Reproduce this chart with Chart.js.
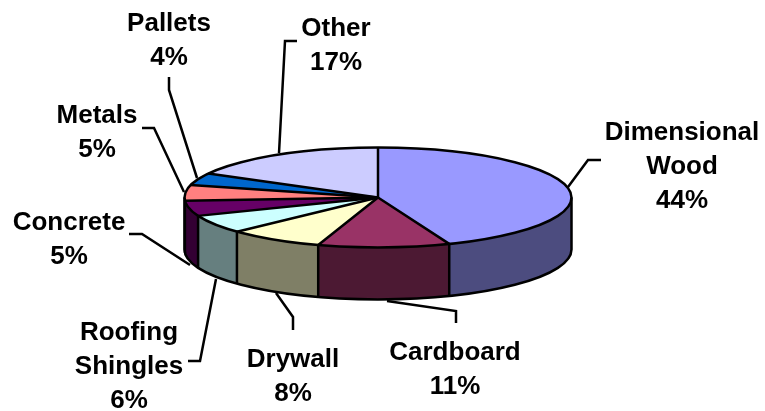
<!DOCTYPE html>
<html>
<head>
<meta charset="utf-8">
<style>
  html, body { margin: 0; padding: 0; background: #fff; }
  canvas { display: block; }
</style>
<script src="https://cdn.jsdelivr.net/npm/chart.js@4"></script>
</head>
<body>
<canvas id="grafico" width="765" height="411"></canvas>
<script>
// dados
const categorias = [['Dimensional', 'Wood'], ['Cardboard'], ['Drywall'], ['Roofing', 'Shingles'], ['Concrete'], ['Metals'], ['Pallets'], ['Other']];
const valores = [44, 11, 8, 6, 5, 5, 4, 17];
const cores = ['#9999FF', '#993366', '#FFFFCC', '#CCFFFF', '#660066', '#FF8080', '#0066CC', '#CCCCFF'];

// layout of the fake 3D pie
const centroY = 197.5;
const achatamento = 0.258;
const profundidade = 52;
const espessura = 2.5;
const fonte = 'bold 26px "Liberation Sans", Arial, sans-serif';
const alturaLinha = 34;

// x centre and first baseline of each label
const posRotulos = [[682, 140], [455, 360], [293, 367], [129, 340], [69, 230], [97, 123], [169, 31], [336, 36]];
// leader lines, in canvas pixels
const linhasGuia = [
    [[568, 187], [588, 160], [601, 160]],
    [[387, 301], [456, 311], [456, 323]],
    [[276, 293], [293, 317], [293, 330]],
    [[216, 279], [200, 361], [188, 361]],
    [[190, 265], [142, 234], [129, 234]],
    [[184, 192], [154, 128], [142, 128]],
    [[197, 178], [169, 90], [169, 77]],
    [[279, 153], [285, 41], [297, 41]]
];

// half of each channel, for the side wall
function escurecer(hex) {
    const n = parseInt(hex.slice(1), 16);
    const r = (n >> 16) >> 1, g = ((n >> 8) & 255) >> 1, b = (n & 255) >> 1;
    return `rgb(${r},${g},${b})`;
}

const pizza3d = {
    id: 'pizza3d',
    beforeDatasetsDraw(chart) {
        const ctx = chart.ctx;
        const arcos = chart.getDatasetMeta(0).data;
        const cx = arcos[0].x, rx = arcos[0].outerRadius, ry = rx * achatamento;

        // leader lines go under the pie
        ctx.save();
        ctx.strokeStyle = '#000';
        ctx.lineWidth = espessura;
        ctx.lineJoin = 'miter';
        linhasGuia.forEach(pts => {
            ctx.beginPath();
            pts.forEach((p, i) => i ? ctx.lineTo(p[0], p[1]) : ctx.moveTo(p[0], p[1]));
            ctx.stroke();
        });

        // side walls, only the part facing the viewer
        arcos.forEach((arco, i) => {
            const a0 = Math.max(arco.startAngle, 0);
            const a1 = Math.min(arco.endAngle, Math.PI);
            if (a1 <= a0) return;
            ctx.beginPath();
            ctx.ellipse(cx, centroY, rx, ry, 0, a0, a1);
            ctx.ellipse(cx, centroY + profundidade, rx, ry, 0, a1, a0, true);
            ctx.closePath();
            ctx.fillStyle = escurecer(cores[i]);
            ctx.fill();
        });
        ctx.restore();

        // the library draws the slices inside this squashed space
        ctx.save();
        ctx.translate(0, centroY);
        ctx.scale(1, achatamento);
        ctx.translate(0, -arcos[0].y);
    },
    afterDatasetsDraw(chart) {
        const ctx = chart.ctx;
        ctx.restore();

        const arcos = chart.getDatasetMeta(0).data;
        const cx = arcos[0].x, rx = arcos[0].outerRadius, ry = rx * achatamento;

        ctx.save();
        ctx.strokeStyle = '#000';
        ctx.lineWidth = espessura;
        ctx.lineJoin = 'round';

        // rims
        ctx.beginPath();
        ctx.ellipse(cx, centroY, rx, ry, 0, 0, Math.PI * 2);
        ctx.stroke();
        ctx.beginPath();
        ctx.moveTo(cx + rx, centroY);
        ctx.lineTo(cx + rx, centroY + profundidade);
        ctx.ellipse(cx, centroY + profundidade, rx, ry, 0, 0, Math.PI);
        ctx.lineTo(cx - rx, centroY);
        ctx.stroke();

        // slice edges, on top and down the wall
        arcos.forEach(arco => {
            const x = cx + rx * Math.cos(arco.startAngle);
            const y = centroY + ry * Math.sin(arco.startAngle);
            ctx.beginPath();
            ctx.moveTo(cx, centroY);
            ctx.lineTo(x, y);
            if (arco.startAngle > 0 && arco.startAngle < Math.PI) ctx.lineTo(x, y + profundidade);
            ctx.stroke();
        });

        // labels
        ctx.fillStyle = '#000';
        ctx.font = fonte;
        ctx.textAlign = 'center';
        ctx.textBaseline = 'alphabetic';
        categorias.forEach((linhas, i) => {
            const [x, y] = posRotulos[i];
            linhas.concat(valores[i] + '%').forEach((t, j) => ctx.fillText(t, x, y + j * alturaLinha));
        });
        ctx.restore();
    }
};

new Chart(document.getElementById('grafico'), {
    type: 'pie',
    data: {
        labels: categorias,
        datasets: [{ data: valores, backgroundColor: cores, borderWidth: 0 }]
    },
    options: {
        responsive: false,
        animation: false,
        // gives radius 193.5 centred on x=378
        layout: { padding: { left: 0, right: 9, top: 12, bottom: 12 } },
        plugins: { legend: { display: false }, tooltip: { enabled: false } }
    },
    plugins: [pizza3d]
});
</script>
</body>
</html>
